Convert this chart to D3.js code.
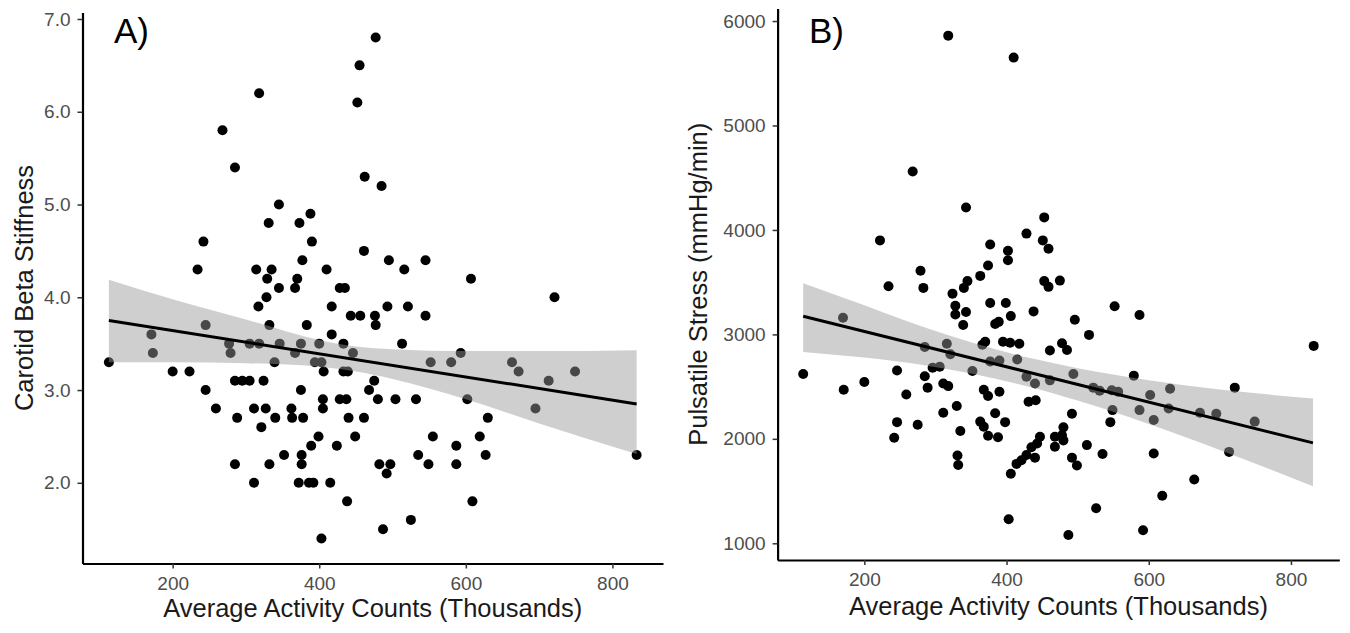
<!DOCTYPE html>
<html>
<head>
<meta charset="utf-8">
<script src="https://cdn.jsdelivr.net/npm/d3@7"></script>
<style>
    body { margin: 0; background: #fff; }
    svg { display: block; font-family: "Liberation Sans", Arial, sans-serif; }
</style>
</head>
<body>
<div id="chart"></div>
<script>
// ---- Panel A: activity counts (thousands) vs carotid beta stiffness ----
const countsA = [113,171,173,200,223,234,242,245,245,259,268,277,279,285,285,288,285,295,305,305,
    311,311,314,317,318,318,321,324,327,328,329,331,332,332,335,339,340,345,345,346,
    352,362,363,367,367,370,372,373,375,375,376,376,377,378,383,386,388,389,390,392,
    394,399,400,403,403,406,405,405,410,415,417,417,424,428,428,433,433,435,437,438,
    439,440,443,446,449,452,455,456,461,461,462,468,475,476,477,477,480,482,485,487,
    492,493,495,497,504,513,516,521,525,532,535,545,545,549,552,555,580,587,587,593,
    602,607,609,619,627,630,663,672,695,713,721,749,833];
const stiffnessA = [3.3,3.6,3.4,3.2,3.2,4.3,4.6,3.7,3.0,2.8,5.8,3.5,3.4,5.4,3.1,2.7,2.2,3.1,3.1,3.5,
    2.8,2.0,4.3,3.9,6.2,3.5,2.6,3.1,2.8,4.0,4.2,4.8,3.7,2.2,4.3,3.3,2.7,5.0,4.1,3.5,
    2.3,2.8,2.7,4.1,3.4,4.2,2.0,4.8,3.5,3.0,2.3,2.2,4.4,2.7,3.7,2.0,4.9,2.4,4.6,2.0,
    3.3,2.5,3.5,3.3,1.4,3.2,2.9,2.8,4.3,2.0,3.9,3.6,2.4,4.1,2.9,3.5,3.2,4.1,2.9,1.8,
    3.2,2.7,3.8,3.4,2.5,6.1,6.5,3.8,4.5,2.7,5.3,3.0,3.1,3.8,6.8,3.7,2.9,2.2,5.2,1.5,
    2.1,3.9,4.4,2.2,2.9,3.5,4.3,3.9,1.6,2.9,2.3,4.4,3.8,2.2,3.3,2.5,3.3,2.4,2.2,3.4,
    2.9,4.2,1.8,2.5,2.3,2.7,3.3,3.2,2.8,3.1,4.0,3.2,2.3];
// fitted line and confidence band
const fitXA = [113, 833];
const fitYA = [3.75, 2.85];
const bandXA = [113, 200, 300, 400, 450, 500, 600, 700, 833];
const bandHiA = [4.19, 3.98, 3.76, 3.54, 3.47, 3.44, 3.42, 3.42, 3.43];
const bandLoA = [3.30, 3.30, 3.29, 3.25, 3.20, 3.12, 2.90, 2.64, 2.31];
const yTicksA = [2, 3, 4, 5, 6, 7];

// ---- Panel B: activity counts (thousands) vs pulsatile stress ----
const countsB = [114,170,171,200,222,234,242,246,246,259,268,275,279,283,285,285,289,296,306,311,
    311,316,318,318,321,324,328,328,330,331,332,335,339,340,343,343,345,352,363,363,
    366,368,368,370,374,374,374,377,377,377,384,389,384,388,390,390,395,398,399,402,
    402,403,405,406,406,410,414,415,418,421,428,428,428,431,435,438,440,440,441,443,
    447,451,453,453,459,459,461,461,468,468,475,478,478,480,480,485,487,492,492,494,
    496,499,513,516,522,526,531,535,546,548,549,552,557,579,587,587,592,602,607,607,
    619,628,630,664,672,695,713,721,749,832];
const stressB = [2620,3160,2470,2545,3900,3460,2010,2655,2160,2425,4560,2135,3610,3445,2880,2600,2490,2680,2690,2250,
    2530,2910,2505,5860,2810,3390,3275,3190,2315,1840,1750,2075,3090,3445,3215,4215,3510,2650,3560,2165,
    2900,2470,2115,2930,3660,2410,2030,3860,3300,2740,3100,3120,2245,2015,2750,2450,2930,2160,3300,3800,
    3710,1230,2920,3175,1665,5650,1760,2760,2910,1795,3965,2595,1845,2355,1920,3220,2530,1820,2370,1955,
    2020,3900,4120,3510,3820,3455,2845,2560,2020,1925,3515,2915,2035,2110,1985,2850,1080,2240,1820,2620,
    3140,1745,1940,2995,2490,1335,2460,1855,2160,2465,2275,3270,2450,2605,3185,2275,1125,2420,2180,1860,
    1455,2290,2480,1610,2250,2240,1875,2490,2165,2890];
const fitXB = [114, 831];
const fitYB = [3174, 1961];
const bandXB = [114, 200, 278, 350, 430, 500, 600, 700, 831];
const bandHiB = [3490, 3278, 3082, 2925, 2778, 2676, 2562, 2473, 2386];
const bandLoB = [2832, 2778, 2712, 2625, 2502, 2366, 2142, 1893, 1546];
const yTicksB = [1000, 2000, 3000, 4000, 5000, 6000];

const xTicks = [200, 400, 600, 800];

const svg = d3.select("#chart")
    .append("svg")
    .attr("width", 1350)
    .attr("height", 633);

function drawPanel(p) {
    const x = d3.scaleLinear().domain(p.xDomain).range([p.left, p.right]);
    const y = d3.scaleLinear().domain(p.yDomain).range([p.bottom, p.top]);
    const g = svg.append("g");

    // Points go first, the smoother's ribbon sits on top of them
    const pts = p.xs.map((d, i) => [d, p.ys[i]]);
    g.selectAll("circle")
        .data(pts)
        .join("circle")
        .attr("cx", d => x(d[0]))
        .attr("cy", d => y(d[1]))
        .attr("r", 5)
        .attr("fill", "#000");

    const band = p.bandX.map((d, i) => ({ x: d, lo: p.bandLo[i], hi: p.bandHi[i] }));
    g.append("path")
        .datum(band)
        .attr("fill", "#999")
        .attr("fill-opacity", 0.47)
        .attr("d", d3.area()
            .x(d => x(d.x))
            .y0(d => y(d.lo))
            .y1(d => y(d.hi))
            .curve(d3.curveMonotoneX));

    g.append("path")
        .datum(p.fitX.map((d, i) => [d, p.fitY[i]]))
        .attr("fill", "none")
        .attr("stroke", "#000")
        .attr("stroke-width", 3)
        .attr("d", d3.line().x(d => x(d[0])).y(d => y(d[1])));

    // Axes (theme_classic look)
    const xAxis = g.append("g")
        .attr("transform", `translate(0,${p.bottom})`)
        .call(d3.axisBottom(x).tickValues(xTicks).tickSize(5).tickSizeOuter(0).tickPadding(8));
    const yAxis = g.append("g")
        .attr("transform", `translate(${p.left},0)`)
        .call(d3.axisLeft(y).tickValues(p.yTicks).tickFormat(p.yFormat)
            .tickSize(5).tickSizeOuter(0).tickPadding(7));

    [xAxis, yAxis].forEach(ax => {
        ax.attr("font-family", null).attr("font-size", null);
        ax.select(".domain").attr("stroke", "#000").attr("stroke-width", 2.2);
        ax.selectAll(".tick line").attr("stroke", "#333").attr("stroke-width", 1.5);
        ax.selectAll(".tick text").attr("fill", "#4d4d4d").style("font-size", "19px");
    });

    // Axis titles
    g.append("text")
        .attr("x", (p.left + p.right) / 2)
        .attr("y", p.xTitleY)
        .attr("text-anchor", "middle")
        .style("font-size", "25.5px")
        .attr("fill", "#1a1a1a")
        .text("Average Activity Counts (Thousands)");

    g.append("text")
        .attr("transform", "rotate(-90)")
        .attr("x", -(p.top + p.bottom) / 2)
        .attr("y", p.yTitleX)
        .attr("text-anchor", "middle")
        .style("font-size", "25.5px")
        .attr("fill", "#1a1a1a")
        .text(p.yTitle);

    // Panel tag
    g.append("text")
        .attr("x", p.tagX)
        .attr("y", 43)
        .style("font-size", "35px")
        .attr("fill", "#000")
        .text(p.tag);
}

drawPanel({
    xs: countsA, ys: stiffnessA,
    fitX: fitXA, fitY: fitYA,
    bandX: bandXA, bandHi: bandHiA, bandLo: bandLoA,
    yTicks: yTicksA, yFormat: d3.format(".1f"),
    xDomain: [77, 869], yDomain: [1.13, 7.07],
    left: 82.5, right: 663, top: 12.5, bottom: 563.5,
    xTitleY: 617, yTitleX: 33,
    yTitle: "Carotid Beta Stiffness",
    tag: "A)", tagX: 114
});

drawPanel({
    xs: countsB, ys: stressB,
    fitX: fitXB, fitY: fitYB,
    bandX: bandXB, bandHi: bandHiB, bandLo: bandLoB,
    yTicks: yTicksB, yFormat: d3.format("d"),
    xDomain: [78, 868], yDomain: [840, 6120],
    left: 777.6, right: 1339.3, top: 8.5, bottom: 560,
    xTitleY: 615, yTitleX: 707,
    yTitle: "Pulsatile Stress (mmHg/min)",
    tag: "B)", tagX: 809
});
</script>
</body>
</html>
